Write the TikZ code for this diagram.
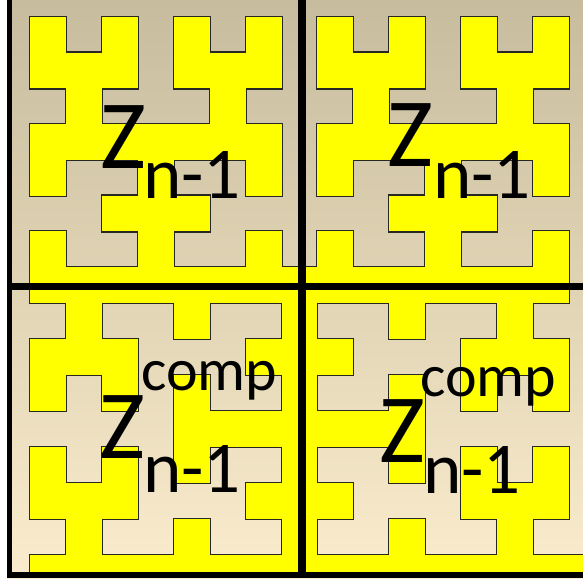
\documentclass[tikz,border=0pt]{standalone}
\usepackage{fontspec}
\setmainfont{Carlito}
\definecolor{bgtop}{RGB}{199,188,158}
\definecolor{bgbot}{RGB}{250,236,204}
\definecolor{zyellow}{RGB}{255,255,0}
\definecolor{zline}{RGB}{40,40,35}
\tikzset{
  yelout/.style={draw=zline, line width=2.7pt},
  yelfill/.style={fill=zyellow},
  frameline/.style={draw=black, line width=#1},
  bigZ/.style={inner sep=0pt, anchor=base west, font=\fontsize{98}{98}\selectfont},
  subtxt/.style={inner sep=0pt, anchor=base west, font=\fontsize{73}{73}\selectfont},
  suptxt/.style={inner sep=0pt, anchor=base west, font=\fontsize{60}{60}\selectfont}
}
\begin{document}
\begin{tikzpicture}[x=1pt,y=-1pt]
\useasboundingbox (0,0) rectangle (583,581);
\fill[white] (0,0) rectangle (583,581);
\shade[top color=bgtop, bottom color=bgbot] (7,0) rectangle (583,578);
\def\runs{%
30/17/66/52.7, 102/17/138/52.7, 174/17/210/52.7, 246/17/282/52.7,
30/52.7/138/88.4, 174/52.7/282/88.4,
66/88.4/102/124.1, 210/88.4/246/124.1,
30/124.1/282/159.9,
30/159.9/66/195.6, 138/159.9/174/195.6, 246/159.9/282/195.6,
102/195.6/210/231.3,
30/231.3/66/267, 138/231.3/174/267, 246/231.3/282/267,
30/267/302/285,
317/17/353/52.7, 389/17/425/52.7, 461/17/497/52.7, 533/17/569/52.7,
317/52.7/425/88.4, 461/52.7/569/88.4,
353/88.4/389/124.1, 497/88.4/533/124.1,
317/124.1/569/159.9,
317/159.9/353/195.6, 425/159.9/461/195.6, 533/159.9/569/195.6,
389/195.6/497/231.3,
317/231.3/353/267, 425/231.3/461/267, 533/231.3/569/267,
302/267/569/285,
30/288/302/303,
66/303/102/339, 174/303/210/339, 282/303/302/339,
30/339/138/375, 246/339/302/375,
30/375/66/411, 102/375/138/411, 174/375/210/411, 282/375/302/411,
174/411/302/447,
30/447/66/483, 102/447/138/483, 174/447/210/483, 282/447/302/483,
30/483/138/519, 246/483/302/519,
66/519/102/555, 174/519/210/555, 282/519/302/555,
30/555/302/574,
302/288/569/303,
302/303/317/339, 389/303/425/339, 497/303/533/339,
302/339/353/375, 461/339/569/375,
302/375/317/411, 389/375/425/411, 461/375/497/411, 533/375/569/411,
302/411/425/447,
302/447/317/483, 389/447/425/483, 461/447/497/483, 533/447/569/483,
302/483/353/519, 461/483/569/519,
302/519/317/555, 389/519/425/555, 497/519/533/555,
302/555/583/574}
\foreach \a/\b/\c/\d in \runs {\path[yelout] (\a,\b) rectangle (\c,\d);}
\foreach \a/\b/\c/\d in \runs {\path[yelfill] (\a,\b) rectangle (\c,\d);}
% frame
\coordinate (lt) at (9.5,0);
\coordinate (lb) at (9.5,578);
\coordinate (bl) at (7,575);
\coordinate (br) at (583,575);
\coordinate (vt) at (302,0);
\coordinate (vb) at (302,578);
\coordinate (hl) at (7,286.5);
\coordinate (hr) at (583,286.5);
\draw[frameline=5pt] (lt) -- (lb);
\draw[frameline=6pt] (bl) -- (br);
\draw[frameline=7.5pt] (vt) -- (vb);
\draw[frameline=7pt] (hl) -- (hr);
% labels
\node[bigZ] (z1) at (100,168) {Z};
\node[subtxt] (s1) at (143,198) {n-1};
\node[bigZ] (z2) at (387,166) {Z};
\node[subtxt] (s2) at (433,198) {n-1};
\node[bigZ] (z3) at (99,458) {Z};
\node[suptxt] (c3) at (141,390) {comp};
\node[subtxt] (s3) at (143,492) {n-1};
\node[bigZ] (z4) at (379,462) {Z};
\node[suptxt] (c4) at (420,396) {comp};
\node[subtxt] (s4) at (423,493) {n-1};
\end{tikzpicture}
\end{document}
